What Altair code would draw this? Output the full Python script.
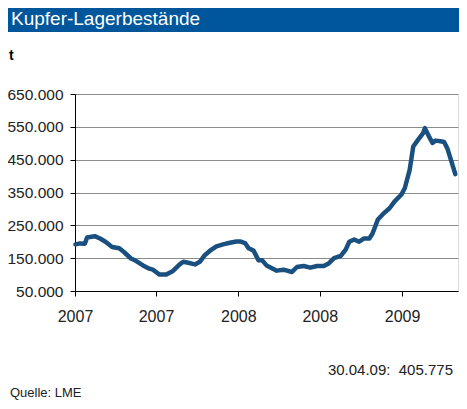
import altair as alt
import pandas as pd

dates = [
    "2007-01-02", "2007-01-12", "2007-01-23", "2007-01-28", "2007-02-14", "2007-02-26",
    "2007-03-10", "2007-03-25", "2007-04-10", "2007-04-21", "2007-05-06", "2007-05-17",
    "2007-06-02", "2007-06-16", "2007-06-24", "2007-07-01", "2007-07-09", "2007-07-24",
    "2007-08-08", "2007-08-23", "2007-08-31", "2007-09-11", "2007-09-26", "2007-10-07",
    "2007-10-18", "2007-10-29", "2007-11-13", "2007-11-28", "2007-12-13", "2007-12-28",
    "2008-01-05", "2008-01-16", "2008-01-24", "2008-02-04", "2008-02-15", "2008-02-23",
    "2008-03-04", "2008-03-27", "2008-04-11", "2008-04-30", "2008-05-11", "2008-05-26",
    "2008-06-10", "2008-06-25", "2008-07-10", "2008-07-21", "2008-08-02", "2008-08-17",
    "2008-08-28", "2008-09-05", "2008-09-16", "2008-09-27", "2008-10-08", "2008-10-20",
    "2008-10-27", "2008-11-08", "2008-11-19", "2008-12-04", "2008-12-15", "2008-12-30",
    "2009-01-07", "2009-01-18", "2009-01-26", "2009-02-06", "2009-02-17", "2009-02-21",
    "2009-03-02", "2009-03-10", "2009-03-17", "2009-03-28", "2009-04-05", "2009-04-12",
    "2009-04-20", "2009-04-30",
]
stocks = [
    192000, 195000, 194000, 213000, 217000, 210000,
    200000, 184000, 180000, 168000, 149000, 142000,
    128000, 118000, 115000, 108000, 100000, 100000,
    111000, 131000, 139000, 136000, 131000, 139000,
    159000, 172000, 186000, 192000, 197000, 201000,
    201000, 196000, 180000, 173000, 144000, 144000,
    128000, 112000, 115000, 108000, 123000, 126000,
    121000, 126000, 126000, 134000, 150000, 157000,
    176000, 200000, 207000, 200000, 210000, 210000,
    225000, 268000, 284000, 302000, 322000, 343000,
    363000, 419000, 490000, 511000, 531000, 546000,
    521000, 501000, 508000, 506000, 504000, 485000,
    450000, 405775,
]

title_text = "Kupfer-Lagerbestände"
unit_text = "t"
last_text = "30.04.09:\u00a0 405.775"
source_text = "Quelle: LME"
y_ticks = [50000, 150000, 250000, 350000, 450000, 550000, 650000]

df = pd.DataFrame({"date": dates, "value": stocks})
one = pd.DataFrame({"k": [0]})

FONT = "Liberation Sans"

x_vals = [alt.DateTime(year=y, month=m, date=1, utc=True)
          for y, m in [(2007, 1), (2007, 7), (2008, 1), (2008, 7), (2009, 1)]]

line = alt.Chart(df).mark_line(color="#19507f", strokeWidth=4.5, strokeJoin="round", strokeCap="round").encode(
    x=alt.X("date:T",
            scale=alt.Scale(type="utc",
                            domain=[alt.DateTime(year=2007, month=1, date=1, utc=True),
                                    alt.DateTime(year=2009, month=5, date=6, utc=True)]),
            axis=alt.Axis(values=x_vals, labelExpr="utcFormat(datum.value, '%Y')", title=None,
                          grid=False, domainColor="black", tickColor="black", tickSize=5,
                          labelFontSize=16, labelFont=FONT, labelColor="#222",
                          labelPadding=12, labelAlign="center")),
    y=alt.Y("value:Q",
            scale=alt.Scale(domain=[50000, 650000], nice=False, zero=False),
            axis=alt.Axis(values=y_ticks, labelExpr="replace(format(datum.value, ','), ',', '.')",
                          title=None, grid=True, gridColor="#8c8c8c", gridWidth=1,
                          domainColor="black", tickColor="black", tickSize=5,
                          labelFontSize=15.5, labelFont=FONT, labelColor="#222", labelPadding=7)),
)

bar = alt.Chart(one).mark_rect(color="#00569b").encode(
    x=alt.value(-67), x2=alt.value(390), y=alt.value(-86), y2=alt.value(-62)
)
title = alt.Chart(one).mark_text(text=title_text, color="white", fontSize=19, font=FONT,
                                 align="left", baseline="alphabetic").encode(
    x=alt.value(-64), y=alt.value(-69)
)
unit = alt.Chart(one).mark_text(text=unit_text, color="black", fontSize=14, fontWeight="bold",
                                font=FONT, align="left", baseline="alphabetic").encode(
    x=alt.value(-66), y=alt.value(-34)
)
last = alt.Chart(one).mark_text(text=last_text, color="#222", fontSize=15, font=FONT,
                                align="right", baseline="alphabetic").encode(
    x=alt.value(378), y=alt.value(281)
)
source = alt.Chart(one).mark_text(text=source_text, color="#222", fontSize=13, font=FONT,
                                  align="left", baseline="alphabetic").encode(
    x=alt.value(-65), y=alt.value(303)
)

chart = alt.layer(line, bar, title, unit, last, source).properties(
    width=383, height=197,
    autosize=alt.AutoSizeParams(type="none"),
    padding={"left": 67, "top": 86, "right": 1, "bottom": 110},
).configure_view(stroke=None).configure(background="white")

chart.save("out.html", embed_options={"renderer": "svg", "actions": False})
